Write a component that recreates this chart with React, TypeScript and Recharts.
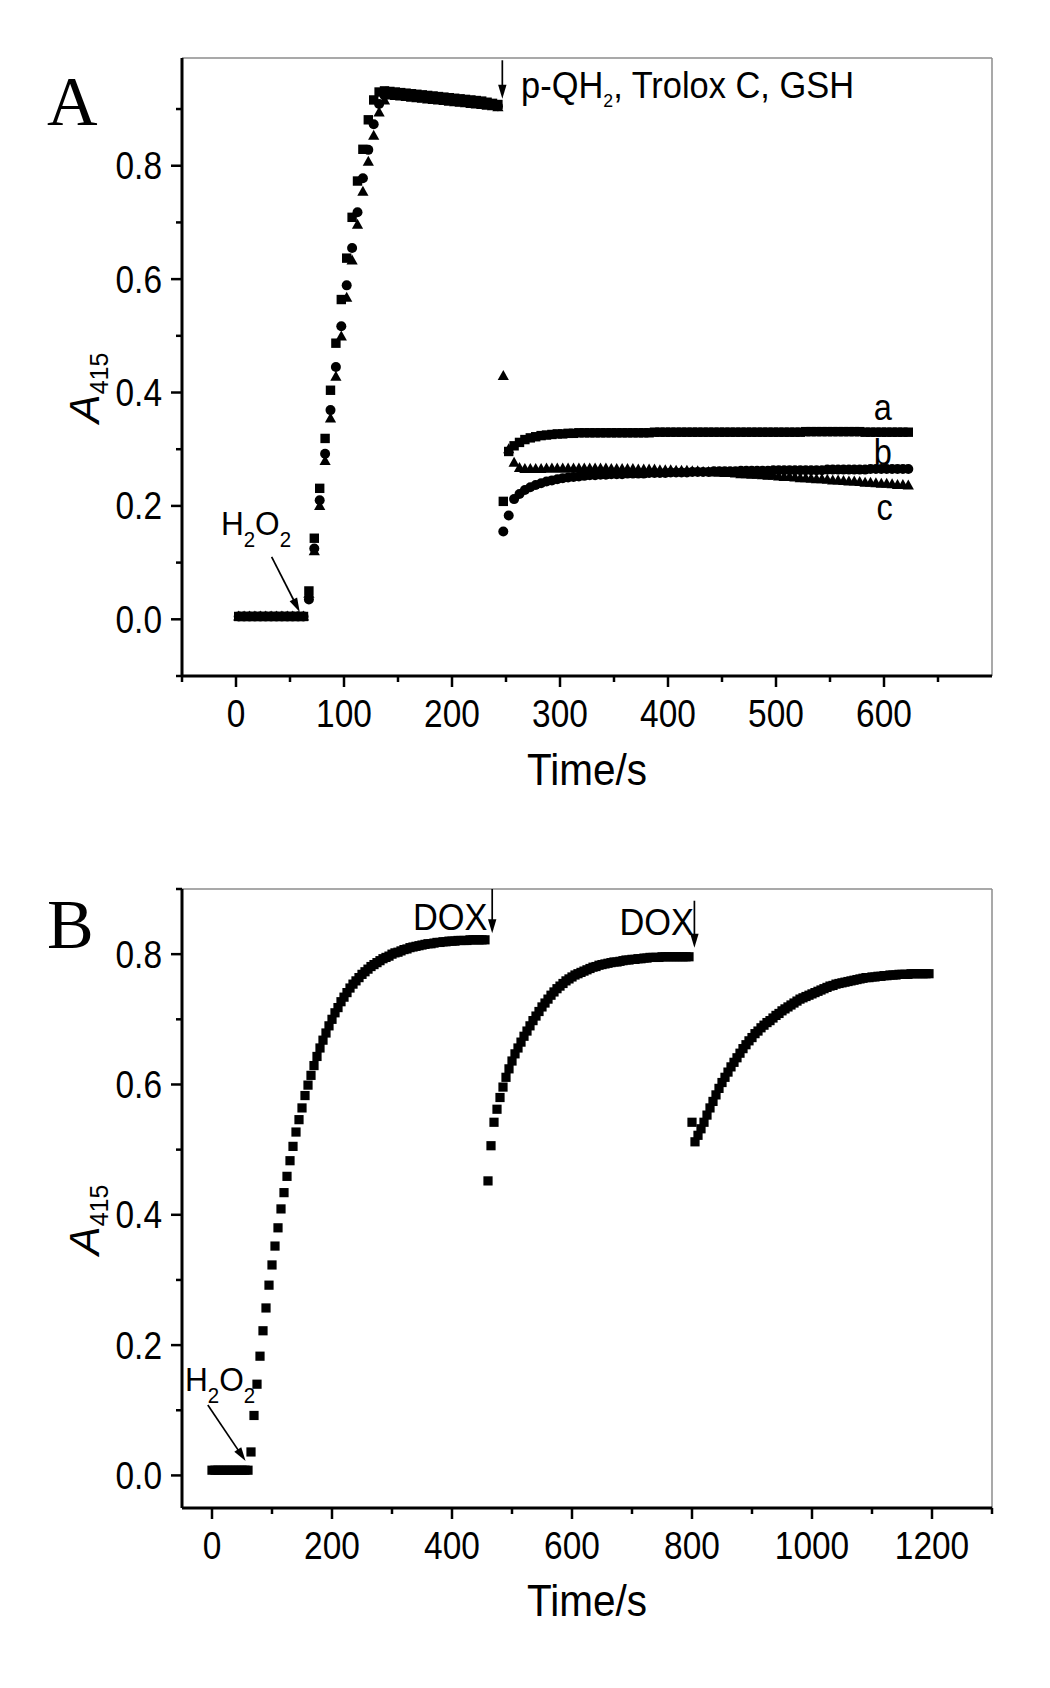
import React from 'react';
import { ScatterChart, Scatter, XAxis, YAxis, ReferenceLine, ReferenceDot } from 'recharts';

const SANS = '"Liberation Sans", Arial, Helvetica, sans-serif';
const SERIF = '"Liberation Serif", "Times New Roman", serif';

// ---------------- Panel A (sampling every 5 s, first sample at 2.5 s) ----------------
const A_T_START = 2.5;
const A_T_STEP = 5;

// curve a (squares)
const A_CURVE_A = [
  0.005, 0.005, 0.005, 0.005, 0.005, 0.005, 0.005, 0.005, 0.005, 0.005, 0.005, 0.005, 0.005,
  0.050, 0.143, 0.231, 0.319, 0.404, 0.487, 0.564, 0.637, 0.709, 0.773, 0.829, 0.881, 0.916, 0.930, 0.932,
  0.931, 0.930, 0.929, 0.928, 0.927, 0.926, 0.925, 0.924, 0.923, 0.922, 0.921, 0.920, 0.919, 0.918, 0.917,
  0.916, 0.915, 0.914, 0.912, 0.910, 0.908,
  0.208, 0.296, 0.306, 0.312, 0.317, 0.320, 0.322, 0.324, 0.325, 0.326, 0.327, 0.327, 0.328, 0.328, 0.329, 0.329,
  0.329, 0.329, 0.329, 0.329, 0.329, 0.329, 0.329, 0.329, 0.329, 0.329, 0.329, 0.329,
  0.330, 0.330, 0.330, 0.330, 0.330, 0.330, 0.330, 0.330, 0.330, 0.330, 0.330, 0.330, 0.330, 0.330,
  0.330, 0.330, 0.330, 0.330, 0.330, 0.330, 0.330, 0.330, 0.330, 0.330, 0.330, 0.330, 0.330, 0.330,
  0.331, 0.331, 0.331, 0.331, 0.331, 0.331, 0.331, 0.331, 0.331, 0.331, 0.331,
  0.330, 0.330, 0.330, 0.330, 0.330, 0.330, 0.330, 0.330, 0.330,
];

// curve b (circles)
const A_CURVE_B = [
  0.005, 0.005, 0.005, 0.005, 0.005, 0.005, 0.005, 0.005, 0.005, 0.005, 0.005, 0.005, 0.005,
  0.035, 0.125, 0.210, 0.292, 0.369, 0.445, 0.517, 0.589, 0.655, 0.718, 0.778, 0.828, 0.873, 0.909, 0.924,
  0.927, 0.926, 0.925, 0.924, 0.923, 0.922, 0.921, 0.920, 0.919, 0.918, 0.917, 0.916, 0.915, 0.914, 0.913,
  0.912, 0.911, 0.910, 0.909, 0.907, 0.905,
  0.155, 0.183, 0.212, 0.221, 0.228, 0.233, 0.237, 0.240, 0.243, 0.245, 0.247, 0.249, 0.250, 0.251, 0.252, 0.253,
  0.254, 0.254, 0.255, 0.255, 0.256, 0.256, 0.256, 0.257, 0.257, 0.257, 0.257, 0.258,
  0.258, 0.258, 0.258, 0.259, 0.259, 0.259, 0.259, 0.260, 0.260, 0.260, 0.260, 0.261, 0.261, 0.261, 0.261, 0.261,
  0.262, 0.262, 0.262, 0.262, 0.262, 0.262, 0.263, 0.263, 0.263, 0.263, 0.263, 0.263, 0.263, 0.263, 0.263, 0.263,
  0.264, 0.264, 0.264, 0.264, 0.264, 0.264, 0.264, 0.264, 0.265, 0.265, 0.265, 0.265, 0.265, 0.265, 0.265, 0.265,
];

// curve c (triangles)
const A_CURVE_C = [
  0.005, 0.005, 0.005, 0.005, 0.005, 0.005, 0.005, 0.005, 0.005, 0.005, 0.005, 0.005, 0.005,
  0.045, 0.120, 0.200, 0.279, 0.354, 0.428, 0.499, 0.567, 0.633, 0.696, 0.754, 0.807, 0.853, 0.894, 0.915,
  0.924, 0.923, 0.922, 0.921, 0.920, 0.919, 0.918, 0.917, 0.916, 0.915, 0.914, 0.913, 0.912, 0.911, 0.910,
  0.909, 0.908, 0.907, 0.906, 0.905, 0.903,
  0.429, 0.300, 0.276, 0.267, 0.265,
  0.265, 0.265, 0.265, 0.266, 0.266, 0.266, 0.266, 0.266, 0.266, 0.266, 0.266,
  0.266, 0.266, 0.266, 0.266, 0.265, 0.265, 0.265, 0.265, 0.265, 0.264, 0.264, 0.264,
  0.264, 0.263, 0.263, 0.263, 0.262, 0.262, 0.262, 0.261, 0.261, 0.260, 0.260, 0.259, 0.259, 0.258, 0.258, 0.257,
  0.256, 0.256, 0.255, 0.255, 0.254, 0.253, 0.253, 0.252, 0.251, 0.251, 0.250, 0.249, 0.249, 0.248, 0.247, 0.247,
  0.246, 0.245, 0.245, 0.244, 0.243, 0.243, 0.242, 0.241, 0.241, 0.240, 0.239, 0.239, 0.238, 0.237, 0.237, 0.236,
];

const A_X_DOMAIN = [-50, 700];
const A_Y_DOMAIN = [-0.1, 0.99];
const A_X_MAJOR = [0, 100, 200, 300, 400, 500, 600];
const A_X_MINOR = [-50, 50, 150, 250, 350, 450, 550, 650];
const A_Y_MAJOR = [0, 0.2, 0.4, 0.6, 0.8];
const A_Y_MINOR = [-0.1, 0.1, 0.3, 0.5, 0.7, 0.9];

// ---------------- Panel B (sampling every 5 s, first sample at 0 s) ----------------
const B_T_START = 0;
const B_T_STEP = 5;
const B_CURVE = [
  // baseline 0–60 s
  0.008, 0.008, 0.008, 0.008, 0.008, 0.008, 0.008, 0.008, 0.008, 0.008, 0.008, 0.008, 0.008,
  // first rise 65–170 s
  0.036, 0.092, 0.140, 0.183, 0.222, 0.257, 0.292, 0.323, 0.352, 0.380, 0.409, 0.434, 0.459, 0.483,
  0.505, 0.527, 0.546, 0.564, 0.583, 0.599, 0.614, 0.629,
  // 175–455 s
  0.643, 0.656, 0.668, 0.679, 0.690, 0.700, 0.710, 0.718, 0.727, 0.734, 0.741, 0.748, 0.754, 0.759,
  0.764, 0.769, 0.773, 0.777, 0.781, 0.784, 0.787, 0.790, 0.793, 0.795, 0.797, 0.800, 0.802, 0.803,
  0.805, 0.807, 0.808, 0.810, 0.811, 0.812, 0.813, 0.814, 0.815, 0.816, 0.816, 0.817, 0.818, 0.818,
  0.819, 0.819, 0.820, 0.820, 0.820, 0.821, 0.821, 0.821, 0.821, 0.822, 0.822, 0.822, 0.822, 0.822, 0.822,
  // after first DOX, 460–795 s
  0.452, 0.506, 0.542, 0.562, 0.580, 0.596, 0.611, 0.624, 0.636, 0.647, 0.656, 0.665, 0.674, 0.682,
  0.690, 0.698, 0.705, 0.712, 0.719, 0.725, 0.731, 0.737, 0.742, 0.747, 0.751, 0.755, 0.759, 0.762,
  0.765, 0.768, 0.770, 0.772, 0.774, 0.776, 0.778, 0.780, 0.781, 0.783, 0.784, 0.785, 0.786, 0.787,
  0.788, 0.788, 0.789, 0.790, 0.791, 0.791, 0.792, 0.792, 0.793, 0.793, 0.794, 0.794, 0.795, 0.795,
  0.795, 0.795, 0.796, 0.796, 0.796, 0.796, 0.796, 0.796, 0.796, 0.796, 0.796, 0.796,
  // after second DOX, 800–1195 s
  0.542, 0.512, 0.522, 0.532, 0.542, 0.553, 0.564, 0.574, 0.584, 0.594, 0.603, 0.611, 0.619, 0.627,
  0.634, 0.641, 0.648, 0.655, 0.661, 0.667, 0.672, 0.678, 0.682, 0.687, 0.691, 0.695, 0.698, 0.702,
  0.706, 0.709, 0.713, 0.716, 0.719, 0.722, 0.725, 0.728, 0.731, 0.733, 0.735, 0.737, 0.739, 0.741,
  0.743, 0.745, 0.747, 0.749, 0.751, 0.752, 0.754, 0.755, 0.756, 0.757, 0.758, 0.759, 0.760, 0.761,
  0.762, 0.763, 0.764, 0.764, 0.765, 0.765, 0.766, 0.766, 0.767, 0.767, 0.768, 0.768, 0.768, 0.769,
  0.769, 0.769, 0.769, 0.770, 0.770, 0.770, 0.770, 0.770, 0.770, 0.770,
];

const B_X_DOMAIN = [-50, 1300];
const B_Y_DOMAIN = [-0.05, 0.9];
const B_X_MAJOR = [0, 200, 400, 600, 800, 1000, 1200];
const B_X_MINOR = [100, 300, 500, 700, 900, 1100, 1300];
const B_Y_MAJOR = [0, 0.2, 0.4, 0.6, 0.8];
const B_Y_MINOR = [0.1, 0.3, 0.5, 0.7, 0.9];

// ---------------- helpers ----------------
const toPoints = (vals: number[], t0: number, dt: number) =>
  vals.map((v, i) => ({ t: t0 + i * dt, v }));

const sortTicks = (a: number[], b: number[]) => [...a, ...b].sort((p, q) => p - q);
const isIn = (arr: number[], v: number) => arr.some((m) => Math.abs(m - v) < 1e-9);

const TICK_FONT = 38;
const SQUEEZE = 0.88;

const makeYTick = (majors: number[]) => (props: any) => {
  const { x, y, payload } = props;
  const major = isIn(majors, payload.value);
  return (
    <g>
      <line x1={x} y1={y} x2={x - (major ? 11 : 6)} y2={y} stroke="#000" strokeWidth={2.5} />
      {major && (
        <g transform={`translate(${x - 20},${y + 13.5}) scale(${SQUEEZE},1)`}>
          <text x={0} y={0} textAnchor="end" fontFamily={SANS} fontSize={TICK_FONT} fill="#000">
            {Number(payload.value).toFixed(1)}
          </text>
        </g>
      )}
    </g>
  );
};

const makeXTick = (majors: number[]) => (props: any) => {
  const { x, y, payload } = props;
  const major = isIn(majors, payload.value);
  return (
    <g>
      <line x1={x} y1={y} x2={x} y2={y + (major ? 11 : 6)} stroke="#000" strokeWidth={2.5} />
      {major && (
        <g transform={`translate(${x},${y + 51}) scale(${SQUEEZE},1)`}>
          <text x={0} y={0} textAnchor="middle" fontFamily={SANS} fontSize={TICK_FONT} fill="#000">
            {String(payload.value)}
          </text>
        </g>
      )}
    </g>
  );
};

const SquareMark = (p: any) => (
  <rect x={p.cx - 4.7} y={p.cy - 4.7} width={9.4} height={9.4} fill="#000" />
);
const CircleMark = (p: any) => <circle cx={p.cx} cy={p.cy} r={5} fill="#000" />;
const TriangleMark = (p: any) => (
  <polygon
    points={`${p.cx},${p.cy - 6} ${p.cx - 5.6},${p.cy + 4} ${p.cx + 5.6},${p.cy + 4}`}
    fill="#000"
  />
);
const SquareMarkB = (p: any) => (
  <rect x={p.cx - 4.6} y={p.cy - 4.6} width={9.2} height={9.2} fill="#000" />
);

const ArrowShape = (p: any) => {
  const { x1, y1, x2, y2 } = p;
  const dx = x2 - x1;
  const dy = y2 - y1;
  const L = Math.hypot(dx, dy) || 1;
  const ux = dx / L;
  const uy = dy / L;
  const hl = 14;
  const hw = 4.2;
  const bx = x2 - ux * hl;
  const by = y2 - uy * hl;
  const px = -uy;
  const py = ux;
  return (
    <g>
      <line x1={x1} y1={y1} x2={bx + ux * 2} y2={by + uy * 2} stroke="#000" strokeWidth={1.7} />
      <polygon
        points={`${x2},${y2} ${bx + px * hw},${by + py * hw} ${bx - px * hw},${by - py * hw}`}
        fill="#000"
      />
    </g>
  );
};

const textAt = (content: React.ReactNode, size: number, squeeze = SQUEEZE) => (p: any) => (
  <g transform={`translate(${p.cx},${p.cy}) scale(${squeeze},1)`}>
    <text x={0} y={0} fontFamily={SANS} fontSize={size} fill="#000">
      {content}
    </text>
  </g>
);

const H2O2 = (
  <>
    <tspan>H</tspan>
    <tspan fontSize={22} dy={12}>2</tspan>
    <tspan dy={-12}>O</tspan>
    <tspan fontSize={22} dy={12}>2</tspan>
  </>
);

const QH2 = (
  <>
    <tspan>p-QH</tspan>
    <tspan fontSize={19} dy={9}>2</tspan>
    <tspan dy={-9}>, Trolox C, GSH</tspan>
  </>
);

const axisLine = { stroke: '#000', strokeWidth: 3 };
const frame = { stroke: '#8c8c8c', strokeWidth: 1.5 };

function PanelA() {
  const a = toPoints(A_CURVE_A, A_T_START, A_T_STEP);
  const b = toPoints(A_CURVE_B, A_T_START, A_T_STEP);
  const c = toPoints(A_CURVE_C, A_T_START, A_T_STEP);
  return (
    <ScatterChart width={1050} height={800} margin={{ top: 58, right: 58, bottom: 24, left: 0 }}>
      <XAxis
        type="number"
        dataKey="t"
        domain={A_X_DOMAIN}
        allowDataOverflow
        ticks={sortTicks(A_X_MAJOR, A_X_MINOR)}
        interval={0}
        tickSize={0}
        tickMargin={0}
        height={100}
        axisLine={axisLine}
        tickLine={false}
        tick={makeXTick(A_X_MAJOR)}
      />
      <YAxis
        type="number"
        dataKey="v"
        domain={A_Y_DOMAIN}
        allowDataOverflow
        ticks={sortTicks(A_Y_MAJOR, A_Y_MINOR)}
        interval={0}
        tickSize={0}
        tickMargin={0}
        width={182}
        axisLine={axisLine}
        tickLine={false}
        tick={makeYTick(A_Y_MAJOR)}
      />
      <ReferenceLine y={A_Y_DOMAIN[1]} ifOverflow="visible" {...frame} />
      <ReferenceLine x={A_X_DOMAIN[1]} ifOverflow="visible" {...frame} />
      <Scatter name="a" data={a} shape={SquareMark} isAnimationActive={false} />
      <Scatter name="b" data={b} shape={CircleMark} isAnimationActive={false} />
      <Scatter name="c" data={c} shape={TriangleMark} isAnimationActive={false} />
      <ReferenceLine
        segment={[{ x: 246.6, y: 0.986 }, { x: 246.6, y: 0.918 }]}
        ifOverflow="visible"
        shape={ArrowShape}
      />
      <ReferenceLine
        segment={[{ x: 33, y: 0.11 }, { x: 59, y: 0.013 }]}
        ifOverflow="visible"
        shape={ArrowShape}
      />
      <ReferenceDot x={264} y={0.92} ifOverflow="visible" shape={textAt(QH2, 37, 0.93)} />
      <ReferenceDot x={-14} y={0.148} ifOverflow="visible" shape={textAt(H2O2, 34, 0.93)} />
      <ReferenceDot x={590.5} y={0.352} ifOverflow="visible" shape={textAt('a', 37)} />
      <ReferenceDot x={590.5} y={0.273} ifOverflow="visible" shape={textAt('b', 37)} />
      <ReferenceDot x={593} y={0.175} ifOverflow="visible" shape={textAt('c', 37)} />
    </ScatterChart>
  );
}

function PanelB() {
  const pts = toPoints(B_CURVE, B_T_START, B_T_STEP);
  return (
    <ScatterChart width={1050} height={888} margin={{ top: 89, right: 58, bottom: 80, left: 0 }}>
      <XAxis
        type="number"
        dataKey="t"
        domain={B_X_DOMAIN}
        allowDataOverflow
        ticks={sortTicks(B_X_MAJOR, B_X_MINOR)}
        interval={0}
        tickSize={0}
        tickMargin={0}
        height={100}
        axisLine={axisLine}
        tickLine={false}
        tick={makeXTick(B_X_MAJOR)}
      />
      <YAxis
        type="number"
        dataKey="v"
        domain={B_Y_DOMAIN}
        allowDataOverflow
        ticks={sortTicks(B_Y_MAJOR, B_Y_MINOR)}
        interval={0}
        tickSize={0}
        tickMargin={0}
        width={182}
        axisLine={axisLine}
        tickLine={false}
        tick={makeYTick(B_Y_MAJOR)}
      />
      <ReferenceLine y={B_Y_DOMAIN[1]} ifOverflow="visible" {...frame} />
      <ReferenceLine x={B_X_DOMAIN[1]} ifOverflow="visible" {...frame} />
      <Scatter name="B" data={pts} shape={SquareMarkB} isAnimationActive={false} />
      <ReferenceLine
        segment={[{ x: 467, y: 0.9 }, { x: 467, y: 0.832 }]}
        ifOverflow="visible"
        shape={ArrowShape}
      />
      <ReferenceLine
        segment={[{ x: 804, y: 0.882 }, { x: 804, y: 0.81 }]}
        ifOverflow="visible"
        shape={ArrowShape}
      />
      <ReferenceLine
        segment={[{ x: -7, y: 0.108 }, { x: 56, y: 0.022 }]}
        ifOverflow="visible"
        shape={ArrowShape}
      />
      <ReferenceDot x={335} y={0.837} ifOverflow="visible" shape={textAt('DOX', 37, 0.93)} />
      <ReferenceDot x={679} y={0.83} ifOverflow="visible" shape={textAt('DOX', 37, 0.93)} />
      <ReferenceDot x={-45} y={0.13} ifOverflow="visible" shape={textAt(H2O2, 34, 0.93)} />
    </ScatterChart>
  );
}

function YTitle({ x, y }: { x: number; y: number }) {
  return (
    <text transform={`translate(${x},${y}) rotate(-90)`} fontFamily={SANS} fill="#000">
      <tspan fontStyle="italic" fontSize={43}>A</tspan>
      <tspan fontSize={25} dy={9}>415</tspan>
    </text>
  );
}

function XTitle({ y }: { y: number }) {
  return (
    <g transform={`translate(587,${y}) scale(0.9,1)`}>
      <text x={0} y={0} textAnchor="middle" fontFamily={SANS} fontSize={45} fill="#000">
        Time/s
      </text>
    </g>
  );
}

export default function App() {
  return (
    <div
      style={{
        position: 'absolute',
        left: 0,
        top: 0,
        width: 1050,
        height: 1688,
        background: '#fff',
        overflow: 'hidden',
      }}
    >
      <div style={{ position: 'absolute', left: 0, top: 0 }}>
        <PanelA />
      </div>
      <div style={{ position: 'absolute', left: 0, top: 800 }}>
        <PanelB />
      </div>
      <svg
        width={1050}
        height={1688}
        style={{ position: 'absolute', left: 0, top: 0, pointerEvents: 'none' }}
      >
        <text x={47} y={125} fontFamily={SERIF} fontSize={70} fill="#000">A</text>
        <text x={47} y={948} fontFamily={SERIF} fontSize={70} fill="#000">B</text>
        <YTitle x={99} y={423} />
        <YTitle x={99} y={1255} />
        <XTitle y={785} />
        <XTitle y={1616} />
      </svg>
    </div>
  );
}
